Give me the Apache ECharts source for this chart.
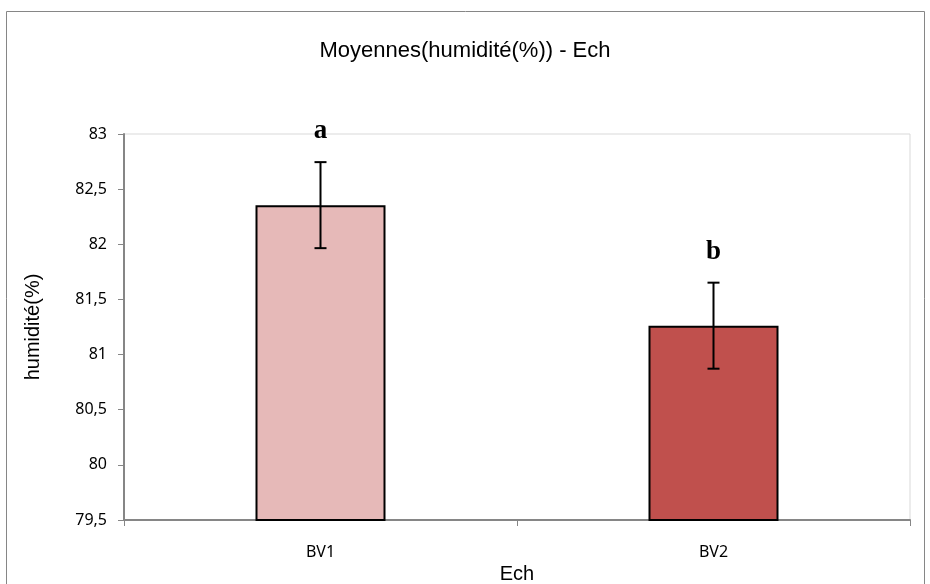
<!DOCTYPE html>
<html>
<head>
<meta charset="utf-8">
<script src="https://cdn.jsdelivr.net/npm/echarts@6/dist/echarts.min.js"></script>
<style>
  html, body { margin: 0; padding: 0; background: #fff; }
  #chart { width: 930px; height: 584px; }
</style>
</head>
<body>
<div id="chart"></div>
<script>
// données
const categories = ["BV1", "BV2"];
const means = [82.355, 81.262];
const stdErr = [0.39, 0.39];
const groupLetters = ["a", "b"];
const yTicks = { min: 79.5, max: 83, step: 0.5 };
const barColors = ["#E6B9B8", "#C0504D"];

const chart = echarts.init(document.getElementById("chart"));

const errData = categories.map((c, i) => [i, means[i] - stdErr[i], means[i] + stdErr[i]]);

const option = {
  animation: false,
  title: {
    text: "Moyennes(humidité(%)) - Ech",
    left: "center",
    top: 35,
    textStyle: { fontFamily: "Liberation Sans", fontSize: 22, fontWeight: "normal", color: "#000" }
  },
  graphic: [
    {
      type: "rect",
      shape: { x: 6.5, y: 11.5, width: 918, height: 620 },
      style: { fill: "none", stroke: "#868686", lineWidth: 1 },
      z: -1
    }
  ],
  grid: {
    left: 124,
    right: 20,
    top: 134,
    bottom: 64,
    outerBoundsMode: "none",
    show: true,
    borderColor: "#d9d9d9",
    borderWidth: 1
  },
  xAxis: {
    type: "category",
    data: categories,
    name: "Ech",
    nameLocation: "middle",
    nameGap: 38,
    nameTextStyle: { fontFamily: "Liberation Sans", fontSize: 20, color: "#000" },
    axisLine: { lineStyle: { color: "#868686", width: 2 } },
    axisTick: { show: true, length: 6, lineStyle: { color: "#868686", width: 1 } },
    axisLabel: { fontFamily: "Noto Sans", fontSize: 16, color: "#000", margin: 24 }
  },
  yAxis: {
    type: "value",
    min: yTicks.min,
    max: yTicks.max,
    interval: yTicks.step,
    name: "humidité(%)",
    nameLocation: "middle",
    nameGap: 81,
    nameTextStyle: { fontFamily: "Liberation Sans", fontSize: 20, color: "#000" },
    axisLine: { show: true, lineStyle: { color: "#868686", width: 2 } },
    axisTick: { show: true, length: 6, lineStyle: { color: "#868686", width: 1 } },
    splitLine: { show: false },
    axisLabel: {
      fontFamily: "Noto Sans",
      fontSize: 16,
      color: "#000",
      margin: 17,
      formatter: v => String(v).replace(".", ",")
    }
  },
  series: [
    {
      type: "bar",
      barWidth: 130,
      data: means.map((v, i) => ({
        value: v,
        itemStyle: { color: barColors[i], borderColor: "#000", borderWidth: 2 }
      })),
      z: 2
    },
    {
      type: "custom",
      z: 5,
      data: errData,
      renderItem: function (params, api) {
        const lo = api.coord([api.value(0), api.value(1)]);
        const hi = api.coord([api.value(0), api.value(2)]);
        const half = 6;
        const st = { stroke: "#000", lineWidth: 2 };
        return {
          type: "group",
          children: [
            { type: "line", shape: { x1: hi[0], y1: hi[1], x2: lo[0], y2: lo[1] }, style: st },
            { type: "line", shape: { x1: hi[0] - half, y1: hi[1], x2: hi[0] + half, y2: hi[1] }, style: st },
            { type: "line", shape: { x1: lo[0] - half, y1: lo[1], x2: lo[0] + half, y2: lo[1] }, style: st },
            {
              type: "text",
              x: hi[0],
              y: hi[1] - 31,
              style: {
                text: groupLetters[params.dataIndex],
                fill: "#000",
                font: "bold 27px 'Liberation Serif', 'DejaVu Serif', serif",
                align: "center",
                verticalAlign: "middle"
              }
            }
          ]
        };
      }
    }
  ]
};

chart.setOption(option);
window.addEventListener("resize", () => chart.resize(), false);
</script>
</body>
</html>
